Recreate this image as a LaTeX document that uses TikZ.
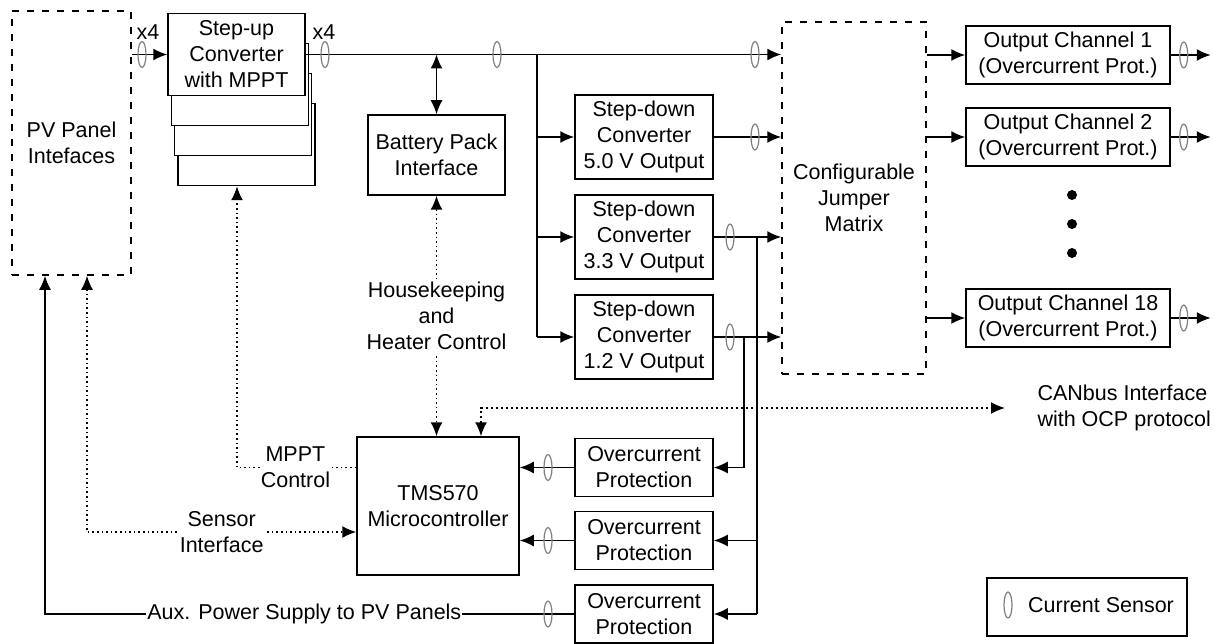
\documentclass[tikz,border=0pt]{standalone}
\usepackage{fontspec}
\setmainfont{Liberation Sans}
\usetikzlibrary{arrows.meta,positioning,shapes.geometric}

\newcommand{\fs}{\fontsize{21.5}{26}\selectfont}

\begin{document}
\begin{tikzpicture}[
    x=1pt, y=-1pt,
    >={Latex[length=14pt,width=12pt]},
    font=\fs,
    blk/.style={draw, fill=white, align=center, inner sep=0pt, line width=1.5pt},
    dashbox/.style={draw, dash pattern=on 7pt off 8pt, line width=1.5pt, align=center},
    sensor/.style={draw=gray, ellipse, inner sep=0pt, minimum width=8pt, minimum height=26pt, line width=1.2pt},
    wire/.style={line width=1.6pt},
    ctrl/.style={line width=1.6pt, dash pattern=on 1.6pt off 3pt},
    canline/.style={line width=1.6pt, dash pattern=on 2.5pt off 2.5pt},
    lbl/.style={fill=white, align=center, inner sep=1pt},
]
\useasboundingbox (0,0) rectangle (1214,644);

% PV side and the step-up stack
\node[dashbox, minimum width=119pt, minimum height=264pt] (pv) at (71.5,143) {PV Panel\\Intefaces};
\foreach \i/\n in {3/sud,2/suc,1/sub}
    \node[blk, minimum width=137pt, minimum height=82pt] (\n) at (236.5+3.3*\i,54.5+30*\i) {};
\node[blk, minimum width=137pt, minimum height=82pt] (su) at (236.5,54.5) {Step-up\\Converter\\with MPPT};
\node at (148,32) {x4};
\node at (324,32) {x4};

% battery and step-down converters
\node[blk, minimum width=137pt, minimum height=80pt] (batt) at (436.5,155) {Battery Pack\\Interface};
\foreach \n/\y/\volt in {sda/137/5.0, sdb/237/3.3, sdc/337/1.2}
    \node[blk, minimum width=138pt, minimum height=84pt] (\n) at (644,\y) {Step-down\\Converter\\\volt~V Output};

% jumper matrix and outputs
\node[dashbox, minimum width=144pt, minimum height=352pt] (jm) at (854,198) {Configurable\\Jumper\\Matrix};
\foreach \n/\y/\c in {oca/55/1, ocb/137/2, ocr/318/18}
    \node[blk, minimum width=204pt, minimum height=58pt] (\n) at (1068,\y) {Output Channel \c\\(Overcurrent Prot.)};
\foreach \y in {195,224,253}
    \fill (1072,\y) circle (5pt);

% controller and protections
\node[blk, minimum width=162pt, minimum height=138pt] (tms) at (438,506) {TMS570\\Microcontroller};
\foreach \n/\y in {ocpa/467.5, ocpb/540.5, ocpc/614}
    \node[blk, minimum width=138pt, minimum height=58pt] (\n) at (644,\y) {Overcurrent\\Protection};
\node[anchor=west, align=left] (canl) at (1034,408) {CANbus Interface\\with OCP protocol};

% power wiring
\draw[wire,->] (pv.east |- su.west) -- (su.west);
\draw[wire,->] (su.east) -- (su.east -| jm.west);
\draw[wire,<->] (batt.north |- su.east) -- (batt.north);
\coordinate (br) at (537,54.5);
\draw[wire] (br) -- (br |- sdc.west);
\foreach \n in {sda,sdb,sdc} {
    \draw[wire,->] (br |- \n.west) -- (\n.west);
    \draw[wire,->] (\n.east) -- (\n.east -| jm.west);
}
\coordinate (va) at (757,0);
\coordinate (vb) at (744,0);
\draw[wire] (va |- sdb.east) -- (va |- ocpc.east);
\draw[wire,->] (va |- ocpb.east) -- (ocpb.east);
\draw[wire,->] (va |- ocpc.east) -- (ocpc.east);
\draw[wire,->] (vb |- sdc.east) -- (vb |- ocpa.east) -- (ocpa.east);
\draw[wire,->] (ocpa.west) -- (ocpa.west -| tms.east);
\draw[wire,->] (ocpb.west) -- (ocpb.west -| tms.east);
\coordinate (aux) at (45,0);
\draw[wire,->] (ocpc.west) -- node[lbl, pos=0.51] {Aux. Power Supply to PV Panels} (ocpc.west -| aux) -- (aux |- pv.south);
\foreach \n in {oca,ocb,ocr} {
    \draw[wire,->] (jm.east |- \n.west) -- (\n.west);
    \draw[wire,->] (\n.east) -- ([xshift=40pt]\n.east);
    \node[sensor] at ([xshift=13pt]\n.east) {};
}

% control lines
\draw[ctrl,<->] (batt.south) -- node[lbl, inner sep=3pt] {Housekeeping\\and\\Heater Control} (batt.south |- tms.north);
\coordinate (mp) at (237,0);
\draw[ctrl,->] (tms.west |- ocpa.west) -- node[lbl, pos=0.51] {MPPT\\Control} (mp |- ocpa.west) -- (mp |- sud.south);
\coordinate (si) at (87,532);
\draw[ctrl,<->] (si |- pv.south) -- (si) -- node[lbl] {Sensor\\Interface} (si -| tms.west);
\draw[canline,<->] ([xshift=43pt]tms.north) |- ([xshift=-29pt]canl.west);

% current sensors
\foreach \p in {(142,54.5),(325,54.5),(497,54.5),(755,54.5),(755,137),(730,237),(730,337),(548,467.5),(548,540.5),(548,614)}
    \node[sensor] at \p {};

% legend
\node[blk, minimum width=200pt, minimum height=58pt] (leg) at (1087,607) {};
\node[sensor] (legs) at (1008,605) {};
\node[right=12pt of legs] {Current Sensor};

\end{tikzpicture}
\end{document}
